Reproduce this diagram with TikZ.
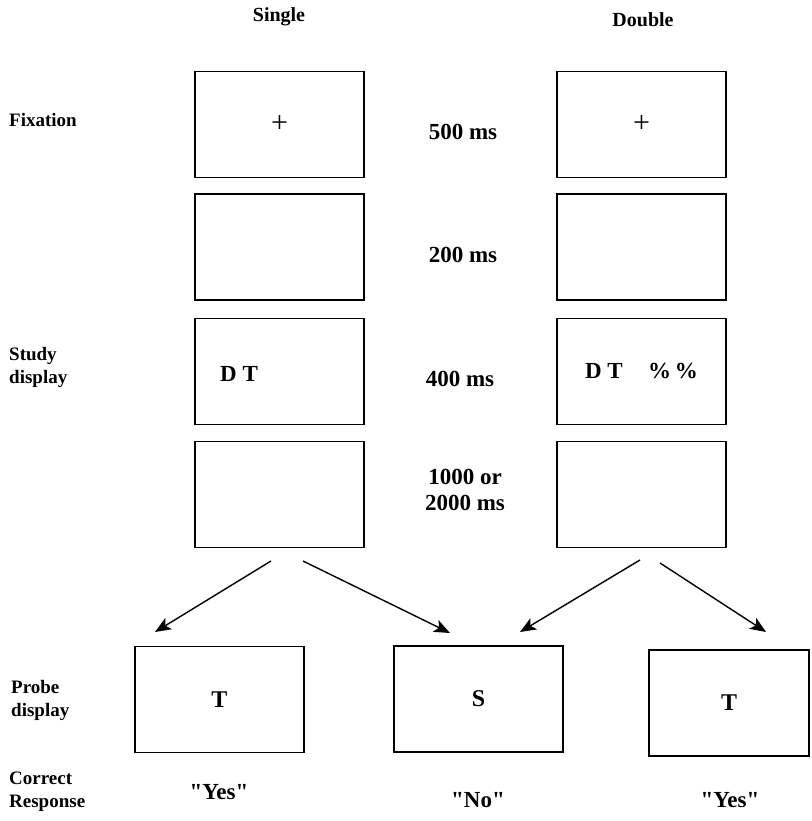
\documentclass[tikz,border=0pt]{standalone}
\usepackage{fontspec}
\setmainfont{Liberation Serif}
\usetikzlibrary{arrows.meta}

\begin{document}
\begin{tikzpicture}[x=1pt, y=-1pt, >={Stealth[length=16pt, width=13pt, inset=4pt]},
    screen/.style = {draw, line width=1.8pt, minimum width=169pt, minimum height=106pt, inner sep=0pt, font=\fontsize{24}{28}\selectfont\bfseries},
    lbl/.style = {font=\fontsize{19}{23}\selectfont\bfseries, align=left, anchor=west, inner sep=0pt},
    tm/.style = {font=\fontsize{23}{26}\selectfont\bfseries, align=center, inner sep=0pt}]
    \useasboundingbox (0,0) rectangle (811,821);

    % column heads
    \node[tm, font=\fontsize{20}{24}\selectfont\bfseries] (Hs) at (279, 17) {Single};
    \node[tm, font=\fontsize{20}{24}\selectfont\bfseries] (Hd) at (643, 20) {Double};

    % single trial screens
    \node[screen] (S1) at (279.5, 124.5) {\fontsize{30}{30}\selectfont\mdseries +};
    \node[screen] (S2) at (279.5, 247) {};
    \node[screen] (S3) at (279.5, 371.5) {};
    \node[screen] (S4) at (279.5, 494.5) {};
    \node[tm] (Sdt) at (239, 374) {D T};

    % double trial screens
    \node[screen] (D1) at (641.5, 124.5) {\fontsize{30}{30}\selectfont\mdseries +};
    \node[screen] (D2) at (641.5, 247) {};
    \node[screen] (D3) at (641.5, 371.5) {\fontsize{23}{26}\selectfont D T\hspace{1.1em}\%\,\%};
    \node[screen] (D4) at (641.5, 494.5) {};

    % durations
    \node[tm] (T1) at (463, 132) {500 ms};
    \node[tm] (T2) at (463, 255) {200 ms};
    \node[tm] (T3) at (460, 379) {400 ms};
    \node[tm] (T4) at (465, 490) {1000 or\\2000 ms};

    % probes
    \node[screen] (Pl) at (219.5, 699.5) {T};
    \node[screen] (Pm) at (478.5, 699) {S};
    \node[screen, minimum width=160pt] (Pr) at (729, 703) {T};

    % row labels
    \node[lbl] (Lfix) at (9, 120) {Fixation};
    \node[lbl] (Lstudy) at (9, 367) {Study\\display};
    \node[lbl] (Lprobe) at (11, 700) {Probe\\display};
    \node[lbl] (Lresp) at (9, 792) {Correct\\Response};

    \node[tm] (Rl) at (219, 792) {\textquotedbl Yes\textquotedbl};
    \node[tm] (Rm) at (478, 800) {\textquotedbl No\textquotedbl};
    \node[tm] (Rr) at (730, 800) {\textquotedbl Yes\textquotedbl};

    % arrow ends
    \coordinate (Sa) at (271, 561);
    \coordinate (Sb) at (303, 561);
    \coordinate (Da) at (640, 560);
    \coordinate (Db) at (660, 563);
    \coordinate (Pla) at (155, 632);
    \coordinate (Pma) at (450, 633);
    \coordinate (Pmb) at (520, 632);
    \coordinate (Pra) at (766, 632);

    \draw[->, line width=1.4pt] (Sa) -- (Pla);
    \draw[->, line width=1.4pt] (Sb) -- (Pma);
    \draw[->, line width=1.4pt] (Da) -- (Pmb);
    \draw[->, line width=1.4pt] (Db) -- (Pra);
\end{tikzpicture}
\end{document}
